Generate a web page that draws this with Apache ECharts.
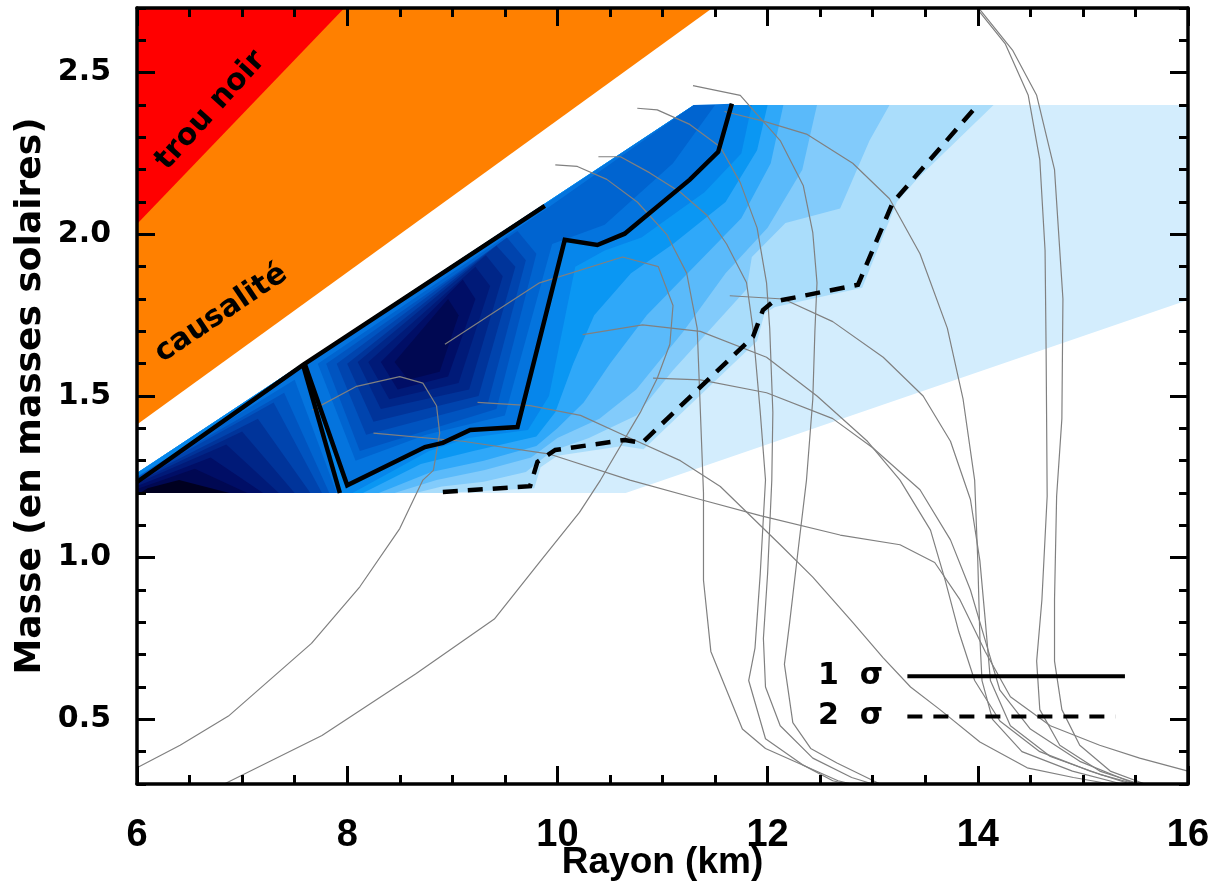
<!DOCTYPE html>
<html><head><meta charset="utf-8">
<script src="https://cdn.jsdelivr.net/npm/echarts@6/dist/echarts.min.js"></script>
<style>html,body{margin:0;padding:0;background:#fff}#c{width:1221px;height:883px}</style>
</head><body><div id="c"></div>
<script>
// ---------- DATA (radius km, mass Msun) ----------
const xRange = [6, 16];
const yRange = [0.3, 2.7];
const yMajorTicks = [0.5, 1.0, 1.5, 2.0, 2.5];

const redRegion = [[6,2.7],[6,2.032],[7.973,2.7]];
const orangeRegion = [[6,2.7],[6,1.412],[11.475,2.7]];
const probRegion = [[6,1.2],[10.65,1.2],[16,1.797],[16,2.4],[11.3,2.4],[6,1.262]];
const regionClose = [[6,1.2],[6,1.262],[11.3,2.4]];

const level2 = [[14.15,2.4],[13.42,2.17],[13.23,2.10],[12.9,1.835],[12.07,1.775],[11.97,1.755],[11.9,1.67],[10.82,1.335],[10.62,1.345],[10.0,1.315],[9.84,1.28],[9.78,1.215],[8.9,1.2]];
const level3 = [[13.16,2.4],[12.97,2.29],[12.69,2.08],[12.17,2.035],[11.85,1.93],[11.8,1.83],[11.1,1.58],[10.75,1.44],[10.3,1.37],[9.95,1.33],[9.7,1.265],[9.3,1.235],[8.9,1.22],[8.65,1.2]];
const level4 = [[12.47,2.4],[12.33,2.2],[12.0,2.02],[11.6,1.88],[11.2,1.7],[10.75,1.52],[10.4,1.43],[10.0,1.37],[9.75,1.31],[9.3,1.27],[8.85,1.24],[8.45,1.2]];
const level5 = [[12.15,2.4],[12.03,2.22],[11.75,2.05],[11.3,1.9],[10.85,1.75],[10.5,1.6],[10.25,1.48],[10.0,1.40],[9.8,1.345],[9.3,1.30],[8.8,1.265],[8.3,1.2]];
const level6 = [[12.0,2.4],[11.9,2.26],[11.6,2.1],[11.1,1.97],[10.7,1.88],[10.35,1.75],[10.15,1.6],[9.98,1.45],[9.8,1.375],[9.2,1.33],[8.7,1.29],[8.15,1.2]];
const level7 = [[11.85,2.4],[11.75,2.25],[11.4,2.13],[10.8,1.99],[10.45,1.95],[10.17,1.9],[9.92,1.5],[9.72,1.395],[9.15,1.37],[8.78,1.33],[8.05,1.2]];

const sigma1Region = [[7.60,1.60],[8.0,1.224],[8.74,1.342],[8.91,1.355],[9.17,1.395],[9.62,1.404],[10.07,1.983],[10.38,1.967],[10.64,2.002],[11.26,2.169],[11.53,2.255],[11.66,2.404],[11.3,2.4]];
const level9 = [[7.72,1.60],[8.08,1.30],[8.75,1.38],[9.5,1.44],[9.95,1.97],[10.45,2.03],[11.1,2.22],[11.5,2.4],[11.3,2.4],[9.9,2.08]];
const peakB10 = [[7.80,1.60],[8.12,1.33],[9.42,1.46],[9.80,1.94],[9.62,2.01]];
const peakB11 = [[7.90,1.60],[8.18,1.38],[9.34,1.48],[9.70,1.92],[9.52,1.99]];
const peakB12 = [[8.0,1.60],[8.25,1.42],[9.25,1.50],[9.60,1.90],[9.42,1.965]];
const peakB13 = [[8.1,1.605],[8.32,1.46],[9.16,1.52],[9.48,1.87],[9.32,1.935]];
const peakB14 = [[8.2,1.605],[8.40,1.49],[9.06,1.54],[9.36,1.84],[9.22,1.90]];
const peakB15 = [[8.32,1.605],[8.48,1.52],[8.96,1.56],[9.22,1.80],[9.10,1.86]];
const peakB16 = [[8.45,1.605],[8.58,1.55],[8.88,1.575],[9.06,1.75],[8.96,1.80]];

const peakA8 = [[6,1.2],[6,1.245],[7.58,1.59],[7.93,1.2]];
const peakA9 = [[6,1.2],[6,1.25],[7.5,1.55],[7.9,1.2]];
const peakA10 = [[6,1.2],[6,1.248],[7.4,1.51],[7.83,1.2]];
const peakA11 = [[6,1.2],[6,1.245],[7.3,1.48],[7.76,1.2]];
const peakA12 = [[6,1.2],[6,1.24],[7.15,1.43],[7.65,1.2]];
const peakA13 = [[6,1.2],[6,1.235],[7.0,1.39],[7.5,1.2]];
const peakA14 = [[6,1.2],[6,1.23],[6.85,1.35],[7.35,1.2]];
const peakA15 = [[6,1.2],[6,1.222],[6.7,1.31],[7.2,1.2]];
const peakA16 = [[6,1.2],[6,1.212],[6.55,1.275],[7.05,1.2]];
const peakA17 = [[6.03,1.2],[6.1,1.215],[6.4,1.24],[6.88,1.2]];

const sigma1LineA = [[9.88,2.088],[7.58,1.596],[6.0,1.234]];
const sigma1LineB = [[7.58,1.596],[7.93,1.2]];
const sigma1LineC = [[7.60,1.596],[8.0,1.224],[8.74,1.342],[8.91,1.355],[9.17,1.395],[9.62,1.404],[10.07,1.983],[10.38,1.967],[10.64,2.002],[11.26,2.169],[11.53,2.255],[11.66,2.404]];
const sigma2Line = [[8.91,1.203],[9.74,1.221],[9.81,1.296],[9.98,1.333],[10.64,1.364],[10.805,1.355],[11.861,1.683],[11.956,1.766],[12.05,1.791],[12.86,1.844],[13.19,2.098],[13.38,2.169],[14.0,2.401]];

const eosA = [[7.67,1.457],[8.09,1.53],[8.50,1.56],[8.72,1.54],[8.85,1.47],[8.88,1.385],[8.82,1.27],[8.72,1.24],[8.50,1.09],[8.12,0.91],[7.66,0.735],[6.87,0.51],[6.41,0.42],[6.0,0.35]];
const eosB = [[8.93,1.66],[9.83,1.85],[10.62,1.93],[10.96,1.90],[11.10,1.78],[11.07,1.66],[10.95,1.555],[10.79,1.45],[10.41,1.24],[10.21,1.14],[9.84,0.99],[9.40,0.81],[8.65,0.64],[7.76,0.45],[6.83,0.30]];
const eosC = [[8.25,1.385],[9.10,1.36],[9.93,1.32],[10.69,1.24],[11.36,1.18],[11.93,1.13],[12.69,1.07],[13.26,1.04],[13.59,0.985],[13.83,0.87],[14.07,0.71],[14.31,0.57],[14.69,0.48],[15.16,0.42],[15.54,0.38],[16.0,0.34]];
const eosD = [[9.24,1.48],[9.74,1.47],[10.22,1.44],[10.69,1.37],[11.17,1.30],[11.55,1.22],[12.12,1.04],[12.43,0.94],[12.81,0.80],[13.10,0.69],[13.36,0.60],[13.64,0.53],[14.02,0.43],[14.47,0.35],[14.91,0.32],[15.26,0.30]];
const eosE = [[10.24,1.69],[10.81,1.72],[11.36,1.70],[11.99,1.62],[12.47,1.50],[12.95,1.36],[13.26,1.24],[13.55,1.085],[13.69,0.93],[13.82,0.77],[13.97,0.62],[14.21,0.495],[14.59,0.40],[15.07,0.34],[15.45,0.30]];
const eosF = [[10.91,1.555],[11.36,1.55],[11.99,1.51],[12.62,1.43],[13.00,1.34],[13.45,1.21],[13.74,1.055],[13.93,0.90],[14.07,0.745],[14.21,0.59],[14.50,0.47],[14.97,0.37],[15.50,0.30]];
const eosG = [[11.64,1.81],[12.15,1.80],[12.62,1.73],[13.10,1.62],[13.48,1.50],[13.74,1.36],[13.93,1.18],[14.02,0.99],[14.07,0.81],[14.12,0.62],[14.31,0.48],[14.69,0.385],[15.16,0.33],[15.50,0.30]];
const eosH = [[11.59,2.38],[11.96,2.35],[12.37,2.31],[12.81,2.22],[13.16,2.11],[13.45,1.94],[13.71,1.71],[13.86,1.49],[13.97,1.24],[14.0,0.99],[14.02,0.75],[14.04,0.62],[14.14,0.50],[14.42,0.40],[14.9,0.34],[15.37,0.30]];
const eosI = [[11.29,2.46],[11.74,2.43],[12.12,2.29],[12.34,2.15],[12.43,2.005],[12.47,1.85],[12.45,1.70],[12.43,1.49],[12.37,1.24],[12.30,1.05],[12.21,0.80],[12.16,0.67],[12.24,0.49],[12.41,0.41],[12.66,0.365],[13.07,0.30]];
const eosJ = [[10.76,2.39],[10.95,2.385],[11.26,2.34],[11.55,2.27],[11.74,2.16],[11.90,2.02],[11.99,1.85],[12.02,1.71],[12.05,1.45],[12.04,1.24],[12.0,0.95],[11.96,0.75],[11.98,0.60],[12.12,0.48],[12.43,0.38],[12.8,0.32],[13.0,0.30]];
const eosK = [[10.39,2.24],[10.60,2.24],[10.88,2.19],[11.17,2.13],[11.42,2.06],[11.61,1.97],[11.80,1.85],[11.86,1.71],[11.93,1.45],[11.98,1.24],[11.93,0.95],[11.88,0.72],[11.82,0.62],[11.98,0.44],[12.33,0.36],[12.62,0.31],[12.75,0.30]];
const eosL = [[9.98,2.215],[10.19,2.21],[10.47,2.17],[10.76,2.10],[11.04,2.00],[11.23,1.88],[11.33,1.71],[11.39,1.20],[11.39,0.93],[11.46,0.71],[11.76,0.47],[11.98,0.41],[12.67,0.31],[12.8,0.30]];
const eosM = [[14.00,2.695],[14.26,2.59],[14.48,2.43],[14.59,2.23],[14.64,1.95],[14.65,1.64],[14.66,1.19],[14.61,0.87],[14.56,0.68],[14.59,0.53],[14.78,0.42],[15.16,0.34],[15.54,0.30]];
const eosN = [[14.02,2.695],[14.33,2.57],[14.56,2.43],[14.73,2.20],[14.81,1.80],[14.80,1.43],[14.75,1.19],[14.73,0.87],[14.73,0.68],[14.80,0.53],[14.97,0.42],[15.26,0.34],[15.59,0.30]];
const eosCurves = [eosA,eosB,eosC,eosD,eosE,eosF,eosG,eosH,eosI,eosJ,eosK,eosL,eosM,eosN];

const legendLabels = ['1  σ', '2  σ'];
const legendLabelPos = [[12.48,0.633],[12.48,0.509]];
const legendSolid = [[13.33,0.633],[15.40,0.633]];
const legendDashed = [[13.33,0.509],[15.31,0.509]];

const annotTexts = ['trou noir', 'causalité'];
const annotPos = [[6.70,2.383],[6.80,1.755]];

// ---------- STYLE ----------
const levelColors = ['#D3EDFD','#AADDFB','#82CBFB','#5ABAFA','#2FA8F9','#0A97F3','#0686EB','#0474DE','#0064D0','#0054C0','#0044AE','#00349A','#002688','#001A78','#000E66','#000852','#000020'];
const annotAngles = [48, 34];
const FONT_WIDE = "'DejaVu Sans', sans-serif";
const FONT_NARROW = "'Liberation Sans', Arial, sans-serif";

const series = [];
function addPoly(pts, color) {
  series.push({
    type: 'custom', coordinateSystem: 'cartesian2d', silent: true, animation: false, z: 1,
    data: [pts[0]],
    renderItem: (p, api) => ({ type: 'polygon', shape: { points: pts.map(q => api.coord(q)) }, style: { fill: color } })
  });
}
addPoly(orangeRegion, '#FF8000');
addPoly(redRegion, '#FF0000');
addPoly(probRegion, levelColors[0]);
[level2, level3, level4, level5, level6, level7].forEach((b, i) => addPoly(b.concat(regionClose), levelColors[i + 1]));
addPoly(sigma1Region, levelColors[7]);
addPoly(level9, levelColors[8]);
[peakB10, peakB11, peakB12, peakB13, peakB14, peakB15, peakB16].forEach((b, i) => addPoly(b, levelColors[9 + i]));
[peakA8, peakA9, peakA10, peakA11, peakA12, peakA13, peakA14, peakA15, peakA16, peakA17].forEach((b, i) => addPoly(b, levelColors[7 + i]));

eosCurves.forEach(c => series.push({
  type: 'line', data: c, symbol: 'none', silent: true, animation: false, z: 3,
  lineStyle: { color: '#808080', width: 1.2 }
}));

function addLine(d, width, type) {
  series.push({ type: 'line', data: d, symbol: 'none', silent: true, animation: false, z: 4,
    lineStyle: { color: '#000', width: width, type: type, cap: 'butt', join: 'miter' } });
}
addLine(sigma1LineA, 4.5, 'solid');
addLine(sigma1LineB, 4.5, 'solid');
addLine(sigma1LineC, 4.5, 'solid');
addLine(sigma2Line, 4.5, [15, 10]);
addLine(legendSolid, 4, 'solid');
addLine(legendDashed, 4, [15, 11]);

function addText(pos, text, angleDeg, font, align) {
  series.push({
    type: 'custom', coordinateSystem: 'cartesian2d', silent: true, animation: false, z: 5,
    data: [pos],
    renderItem: (p, api) => {
      const c = api.coord([api.value(0), api.value(1)]);
      return { type: 'text', x: c[0], y: c[1], rotation: angleDeg * Math.PI / 180,
        style: { text: text, fill: '#000', font: font, align: align, verticalAlign: 'middle' } };
    }
  });
}
annotTexts.forEach((t, i) => addText(annotPos[i], t, annotAngles[i], "bold 30px " + FONT_WIDE, 'center'));
legendLabels.forEach((t, i) => addText(legendLabelPos[i], t, 0, "bold 30px " + FONT_WIDE, 'left'));

const lineSt = { color: '#000', width: 3 };
function xAx(pos, showLabel) {
  return {
    type: 'value', min: xRange[0], max: xRange[1], interval: 2, position: pos, z: 10,
    axisLine: { show: true, onZero: false, lineStyle: { color: '#000', width: 3.5 } },
    axisTick: { show: true, inside: true, length: 18, lineStyle: lineSt },
    minorTick: { show: true, splitNumber: 4, length: 9, lineStyle: lineSt },
    splitLine: { show: false }, minorSplitLine: { show: false },
    axisLabel: { show: showLabel, margin: 33, color: '#000', fontSize: 38, fontWeight: 'bold', fontFamily: FONT_NARROW, showMinLabel: true, showMaxLabel: true },
    name: showLabel ? 'Rayon (km)' : '', nameLocation: 'middle', nameGap: 60, nameMoveOverlap: false,
    nameTextStyle: { color: '#000', fontSize: 37, fontWeight: 'bold', fontFamily: FONT_NARROW }
  };
}
function yMajor(pos, showLabel) {
  return {
    type: 'value', min: yRange[0], max: yRange[1], position: pos, z: 10,
    axisLine: { show: true, onZero: false, lineStyle: { color: '#000', width: 3.5 } },
    axisTick: { show: true, inside: true, length: 18, customValues: yMajorTicks, lineStyle: lineSt },
    splitLine: { show: false },
    axisLabel: { show: showLabel, customValues: yMajorTicks, formatter: v => Number(v).toFixed(1), margin: 26, color: '#000', fontSize: 30, fontWeight: 'bold', fontFamily: FONT_WIDE },
    name: showLabel ? 'Masse (en masses solaires)' : '', nameLocation: 'middle', nameGap: 88, nameRotate: 90, nameMoveOverlap: false,
    nameTextStyle: { color: '#000', fontSize: 36, fontWeight: 'bold', fontFamily: FONT_WIDE }
  };
}
function yMinor(pos) {
  return {
    type: 'value', min: yRange[0], max: yRange[1], interval: 0.1, position: pos, z: 10,
    axisLine: { show: false }, axisTick: { show: true, inside: true, length: 9, lineStyle: lineSt },
    axisLabel: { show: false }, splitLine: { show: false }
  };
}

const chart = echarts.init(document.getElementById('c'), null, { renderer: 'canvas' });
chart.setOption({
  animation: false,
  backgroundColor: '#fff',
  grid: { left: 137, right: 33, top: 8, bottom: 99, containLabel: false, outerBoundsMode: 'none' },
  xAxis: [xAx('bottom', true), xAx('top', false)],
  yAxis: [yMajor('left', true), yMinor('left'), yMajor('right', false), yMinor('right')],
  series: series
});
</script></body></html>
